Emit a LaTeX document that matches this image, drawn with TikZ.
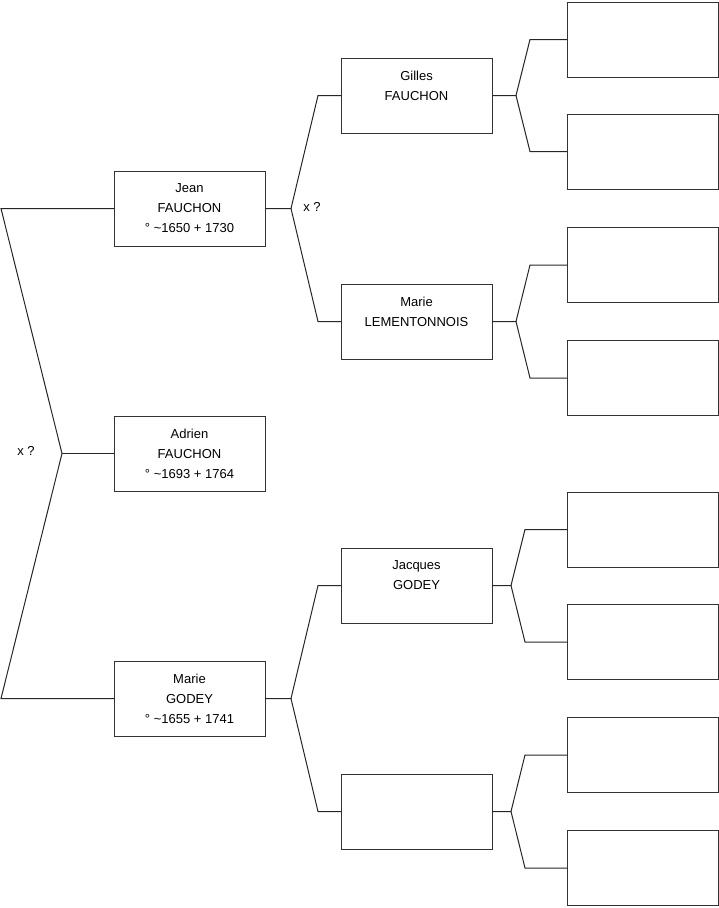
\documentclass[tikz,border=0pt]{standalone}
\usepackage{fontspec}
\setmainfont{Liberation Sans}
\usetikzlibrary{positioning,calc}

\begin{document}
\begin{tikzpicture}[x=1pt,y=-1pt,
  node distance=76pt,
  person/.style={draw=black!80,line width=1pt,align=center,minimum width=151pt,minimum height=75pt,inner sep=0pt,outer sep=0pt,
    font=\fontsize{13}{20}\selectfont},
  link/.style={draw=black!85,line width=1pt},
  note/.style={font=\fontsize{13}{15}\selectfont}
]
\useasboundingbox (0,0) rectangle (719,908);
% generation 1
\node[person] (adrien) at (189.5,453.5) {Adrien\\FAUCHON\\° \textasciitilde1693 + 1764};
% generation 2
\node[person,above=170pt of adrien] (jean) {Jean\\FAUCHON\\° \textasciitilde1650 + 1730};
\node[person,below=170pt of adrien] (marieg) {Marie\\GODEY\\° \textasciitilde1655 + 1741};
% generation 3
\node[person,above right=38pt and 76pt of jean] (gilles) {Gilles\\FAUCHON\\\mbox{}};
\node[person,below right=38pt and 76pt of jean] (lementonnois) {Marie\\LEMENTONNOIS\\\mbox{}};
\node[person,above right=38pt and 76pt of marieg] (jacques) {Jacques\\GODEY\\\mbox{}};
\node[person,below right=38pt and 76pt of marieg] (mgmother) {};
% generation 4
\node[person,above right=-19pt and 75pt of gilles] (g1) {};
\node[person,below right=-19pt and 75pt of gilles] (g2) {};
\node[person,above right=-18.5pt and 75pt of lementonnois] (l1) {};
\node[person,below right=-18.5pt and 75pt of lementonnois] (l2) {};
\node[person,above right=-19pt and 75pt of jacques] (j1) {};
\node[person,below right=-18.5pt and 75pt of jacques] (j2) {};
\node[person,above right=-18.5pt and 75pt of mgmother] (m1) {};
\node[person,below right=-18.5pt and 75pt of mgmother] (m2) {};

% parents of Adrien
\coordinate (ltop) at (jean.west -| 1,0);
\coordinate (lbot) at (marieg.west -| 1,0);
\coordinate (lfork) at ($(adrien.west)+(-52pt,0)$);
\draw[link] (jean.west) -- (ltop) -- (lfork) -- (lbot) -- (marieg.west);
\draw[link] (lfork) -- (adrien.west);
\node[note] (xa) at (26,451) {x ?};

% parents of Jean
\draw[link] (jean.east) -- ++(26pt,0) coordinate (jfork) -- ([xshift=-23pt]gilles.west) -- (gilles.west);
\draw[link] (jfork) -- ([xshift=-23pt]lementonnois.west) -- (lementonnois.west);
\node[note] (xj) at (312,207) {x ?};

% parents of Marie
\draw[link] (marieg.east) -- ++(26pt,0) coordinate (mfork) -- ([xshift=-23pt]jacques.west) -- (jacques.west);
\draw[link] (mfork) -- ([xshift=-23pt]mgmother.west) -- (mgmother.west);

% great-grandparents
\draw[link] (gilles.east) -- ++(24pt,0) coordinate (gfork) -- ([xshift=-37pt]g1.west) -- (g1.west);
\draw[link] (gfork) -- ([xshift=-37pt]g2.west) -- (g2.west);
\draw[link] (lementonnois.east) -- ++(24pt,0) coordinate (lfork2) -- ([xshift=-37pt]l1.west) -- (l1.west);
\draw[link] (lfork2) -- ([xshift=-37pt]l2.west) -- (l2.west);
\draw[link] (jacques.east) -- ++(19pt,0) coordinate (jfork2) -- ([xshift=-42pt]j1.west) -- (j1.west);
\draw[link] (jfork2) -- ([xshift=-42pt]j2.west) -- (j2.west);
\draw[link] (mgmother.east) -- ++(19pt,0) coordinate (mfork2) -- ([xshift=-42pt]m1.west) -- (m1.west);
\draw[link] (mfork2) -- ([xshift=-42pt]m2.west) -- (m2.west);
\end{tikzpicture}
\end{document}
